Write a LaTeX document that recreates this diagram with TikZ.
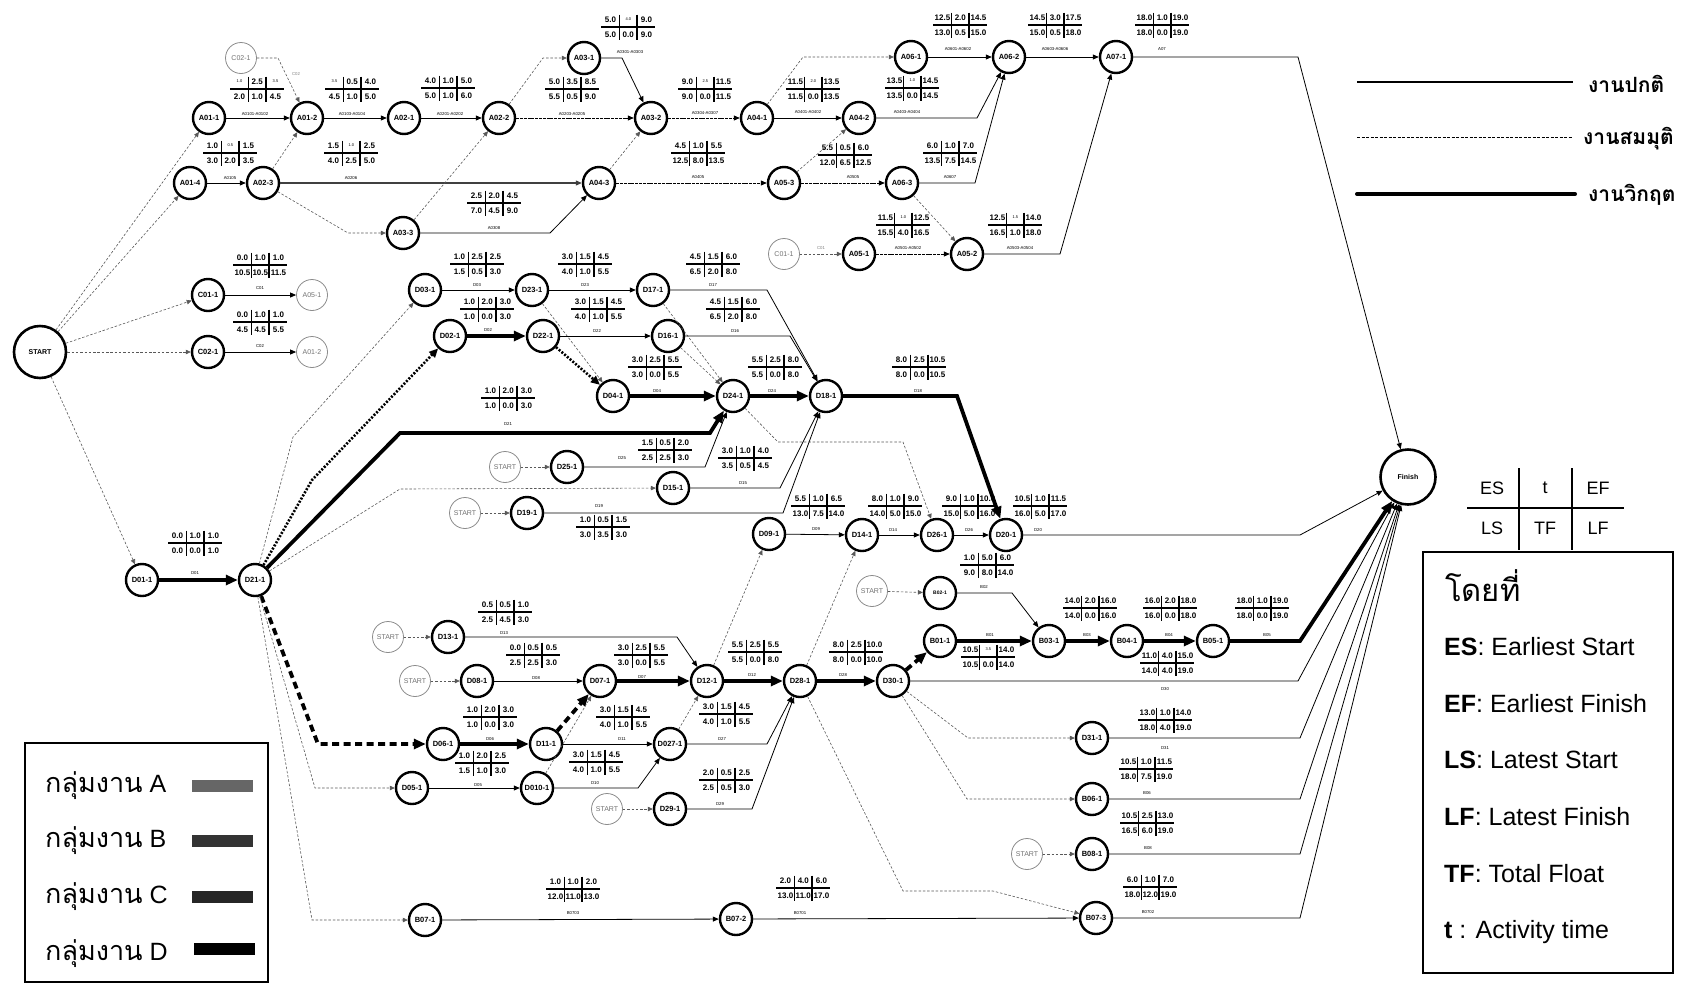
\documentclass[tikz,border=0pt]{standalone}
\usepackage{fontspec}
\setmainfont{Liberation Sans}
\newfontfamily\thai[Script=Thai]{Loma}
\usetikzlibrary{arrows.meta}
\tikzset{
 nd/.style={circle, draw, line width=2.4pt, minimum size=32pt, inner sep=0pt, font=\bfseries\fontsize{7.5}{8}\selectfont},
 gn/.style={circle, draw=black!45, line width=0.8pt, minimum size=31pt, inner sep=0pt, text=black!55, font=\fontsize{7}{8}\selectfont},
 big/.style={circle, draw, line width=2.6pt, minimum size=52pt, inner sep=0pt, font=\bfseries\fontsize{7}{8}\selectfont},
 tl/.style={line width=1.9pt},
 tv/.style={inner sep=0pt, font=\bfseries\fontsize{8}{9}\selectfont},
 el/.style={inner sep=0pt, font=\fontsize{4.3}{5}\selectfont},
 nm/.style={line width=0.8pt, -{Triangle[length=6pt,width=5pt]}},
 dn/.style={nm, dash pattern=on 3pt off 0.8pt},
 dm/.style={black!65, line width=0.6pt, dash pattern=on 2.5pt off 1.8pt, -{Triangle[length=5pt,width=4.5pt]}},
 cr/.style={line width=3.8pt, -{Triangle[length=12pt,width=10pt]}},
 crd/.style={cr, dash pattern=on 7pt off 4.5pt},
 crt/.style={line width=2.6pt, dash pattern=on 2pt off 1.6pt, -{Triangle[length=9pt,width=8pt]}},
 lg/.style={inner sep=0pt, anchor=base west, font=\fontsize{25}{28}\selectfont},
 gl/.style={inner sep=0pt, anchor=base west, font=\fontsize{25}{27}\selectfont},
}
\newcommand\sm[1]{{\fontsize{4}{4}\selectfont\mdseries #1}}
\newcommand\tb[9]{%
 \begin{scope}[shift={(#1)}]
  \draw[tl] (-27,0) -- (27,0);
  \draw[tl] (-8.5,-12.5) -- (-8.5,12.5);
  \draw[tl] (9,-12.5) -- (9,12.5);
  \node[tv] at (-17.5,-7.5) {#2};
  \node[tv] at (0.3,-7.5) {#3};
  \node[tv] at (18.5,-7.5) {#4};
  \node[tv] at (-17.5,7.5) {#5};
  \node[tv] at (0.3,7.5) {#6};
  \node[tv] at (18.5,7.5) {#7};
 \end{scope}
 \node[el] at (#9) {#8};}
\begin{document}
\begin{tikzpicture}[x=1pt,y=-1pt]
\fill[white] (0,0) rectangle (1685,991);
\useasboundingbox (0,0) rectangle (1685,991);

% ---------- nodes ----------
\node[big] (START) at (40,352) {START};
\node[big, minimum size=55pt] (Finish) at (1408,477) {Finish};

\node[gn] (C02g) at (241,58) {C02-1};
\node[nd] (A01-1) at (209,118) {A01-1};
\node[nd] (A01-2) at (307,118) {A01-2};
\node[nd] (A02-1) at (404,118) {A02-1};
\node[nd] (A02-2) at (499,118) {A02-2};
\node[nd] (A03-1) at (584,58) {A03-1};
\node[nd] (A03-2) at (651,118) {A03-2};
\node[nd] (A04-1) at (757,118) {A04-1};
\node[nd] (A04-2) at (859,118) {A04-2};
\node[nd] (A06-1) at (911,57) {A06-1};
\node[nd] (A06-2) at (1009,57) {A06-2};
\node[nd] (A07-1) at (1116,57) {A07-1};
\node[nd] (A01-4) at (190,183) {A01-4};
\node[nd] (A02-3) at (263,183) {A02-3};
\node[nd] (A04-3) at (599,183) {A04-3};
\node[nd] (A05-3) at (784,183) {A05-3};
\node[nd] (A06-3) at (902,183) {A06-3};
\node[nd] (A03-3) at (403,233) {A03-3};
\node[gn] (C01g) at (784,254) {C01-1};
\node[nd] (A05-1) at (859,254) {A05-1};
\node[nd] (A05-2) at (967,254) {A05-2};

\node[nd] (C01-1) at (208,295) {C01-1};
\node[gn] (A05g) at (312,295) {A05-1};
\node[nd] (C02-1) at (208,352) {C02-1};
\node[gn] (A01-2g) at (312,352) {A01-2};

\node[nd] (D01-1) at (142,580) {D01-1};
\node[nd] (D21-1) at (255,580) {D21-1};
\node[nd] (D03-1) at (425,290) {D03-1};
\node[nd] (D23-1) at (532,290) {D23-1};
\node[nd] (D17-1) at (653,290) {D17-1};
\node[nd] (D02-1) at (450,336) {D02-1};
\node[nd] (D22-1) at (543,336) {D22-1};
\node[nd] (D16-1) at (668,336) {D16-1};
\node[nd] (D04-1) at (613,396) {D04-1};
\node[nd] (D24-1) at (733,396) {D24-1};
\node[nd] (D18-1) at (826,396) {D18-1};
\node[gn] (S1) at (505,467) {START};
\node[nd] (D25-1) at (567,467) {D25-1};
\node[nd] (D15-1) at (673,488) {D15-1};
\node[gn] (S2) at (465,513) {START};
\node[nd] (D19-1) at (527,513) {D19-1};
\node[nd] (D09-1) at (769,534) {D09-1};
\node[nd] (D14-1) at (862,535) {D14-1};
\node[nd] (D26-1) at (937,535) {D26-1};
\node[nd] (D20-1) at (1006,535) {D20-1};
\node[gn] (S3) at (872,591) {START};
\node[nd, font=\bfseries\fontsize{5}{6}\selectfont] (B02-1) at (940,593) {B02-1};
\node[nd] (B01-1) at (940,641) {B01-1};
\node[nd] (B03-1) at (1049,641) {B03-1};
\node[nd] (B04-1) at (1127,641) {B04-1};
\node[nd] (B05-1) at (1213,641) {B05-1};
\node[gn] (S4) at (388,637) {START};
\node[nd] (D13-1) at (448,637) {D13-1};
\node[gn] (S5) at (415,681) {START};
\node[nd] (D08-1) at (477,681) {D08-1};
\node[nd] (D07-1) at (600,681) {D07-1};
\node[nd] (D12-1) at (707,681) {D12-1};
\node[nd] (D28-1) at (800,681) {D28-1};
\node[nd] (D30-1) at (893,681) {D30-1};
\node[nd] (D06-1) at (443,744) {D06-1};
\node[nd] (D11-1) at (546,744) {D11-1};
\node[nd] (D027-1) at (670,744) {D027-1};
\node[nd] (D05-1) at (412,788) {D05-1};
\node[nd] (D010-1) at (537,788) {D010-1};
\node[gn] (S6) at (607,809) {START};
\node[nd] (D29-1) at (670,809) {D29-1};
\node[nd] (D31-1) at (1092,738) {D31-1};
\node[nd] (B06-1) at (1092,799) {B06-1};
\node[gn] (S7) at (1027,854) {START};
\node[nd] (B08-1) at (1092,854) {B08-1};
\node[nd] (B07-1) at (425,920) {B07-1};
\node[nd] (B07-2) at (736,919) {B07-2};
\node[nd] (B07-3) at (1096,918) {B07-3};

% ---------- connectors: A ----------
\draw[dm] (START) -- (A01-1);
\draw[dm] (START) -- (A01-4);
\draw[dm] (START) -- (C01-1);
\draw[dm] (START) -- (C02-1);
\draw[dm] (START) -- (D01-1);
\draw[dm] (C02g) -- (278,58) -- (A01-2);
\node[el, text=black!50] at (296,74) {C02};
\draw[nm] (A01-1) -- (A01-2);
\draw[nm] (A01-2) -- (A02-1);
\draw[nm] (A02-1) -- (A02-2);
\draw[dn] (A02-2) -- (A03-2);
\draw[dm] (A02-2) -- (543,58) -- (A03-1);
\draw[nm] (A03-1) -- (622,58) -- (A03-2);
\draw[dn] (A03-2) -- (A04-1);
\draw[nm] (A04-1) -- (A04-2);
\draw[dm] (A04-1) -- (803,57) -- (A06-1);
\draw[nm] (A06-1) -- (A06-2);
\draw[nm] (A06-2) -- (A07-1);
\draw[nm] (A07-1) -- (1298,57) -- (Finish);
\draw[nm] (A04-2) -- (977,118) -- (A06-2);
\draw[nm] (A01-4) -- (A02-3);
\draw[dm] (A02-3) -- (A01-2);
\draw[nm, black!75, line width=1.1pt] (A02-3) -- (A04-3);
\draw[dm] (A02-3) -- (348,233) -- (A03-3);
\draw[dm] (A03-3) -- (A02-2);
\draw[nm] (A03-3) -- (550,233) -- (A04-3);
\draw[dm] (A04-3) -- (A03-2);
\draw[dn] (A04-3) -- (A05-3);
\draw[dm] (A05-3) -- (A04-2);
\draw[dn] (A05-3) -- (A06-3);
\draw[nm] (A06-3) -- (975,183) -- (A06-2);
\draw[dm] (A06-3) -- (A05-2);
\draw[dm] (C01g) -- (A05-1);
\node[el, text=black!50] at (821,248) {C01};
\draw[dn] (A05-1) -- (A05-2);
\draw[nm] (A05-2) -- (1060,254) -- (A07-1);

% ---------- connectors: C ----------
\draw[nm] (C01-1) -- (A05g);
\draw[nm] (C02-1) -- (A01-2g);

% ---------- connectors: D / B ----------
\draw[cr] (D01-1) -- (D21-1);
\draw[dm] (D21-1) -- (293,437) -- (D03-1);
\draw[crt] (D21-1) -- (312,480) -- (D02-1);
\draw[cr] (D21-1) -- (400,433) -- (710,433) -- (D24-1);
\draw[dm] (D21-1) -- (400,489) -- (D15-1);
\draw[crd] (D21-1) -- (318,744) -- (D06-1);
\draw[dm] (D21-1) -- (315,788) -- (D05-1);
\draw[dm] (D21-1) -- (312,920) -- (B07-1);
\draw[nm] (D03-1) -- (D23-1);
\draw[nm] (D23-1) -- (D17-1);
\draw[nm] (D17-1) -- (767,290) -- (D18-1);
\draw[dm] (D23-1) -- (D04-1);
\draw[dm] (D17-1) -- (D24-1);
\draw[cr] (D02-1) -- (D22-1);
\draw[nm] (D22-1) -- (D16-1);
\draw[nm] (D16-1) -- (790,336) -- (D18-1);
\draw[crt] (D22-1) -- (D04-1);
\draw[dm] (D16-1) -- (D24-1);
\draw[cr] (D04-1) -- (D24-1);
\draw[cr] (D24-1) -- (D18-1);
\draw[cr] (D18-1) -- (957,396) -- (D20-1);
\draw[dm] (D24-1) -- (778,442) -- (903,442) -- (D26-1);
\draw[dm] (S1) -- (D25-1);
\draw[nm] (D25-1) -- (705,467) -- (D24-1);
\draw[nm] (D15-1) -- (780,488) -- (D18-1);
\draw[dm] (S2) -- (D19-1);
\draw[nm] (D19-1) -- (783,513) -- (D18-1);
\draw[nm] (D09-1) -- (D14-1);
\draw[nm] (D14-1) -- (D26-1);
\draw[nm] (D26-1) -- (D20-1);
\draw[nm] (D20-1) -- (1300,535) -- (Finish);
\draw[dm] (S3) -- (B02-1);
\draw[nm] (B02-1) -- (1012,593) -- (B03-1);
\draw[cr] (B01-1) -- (B03-1);
\draw[cr] (B03-1) -- (B04-1);
\draw[cr] (B04-1) -- (B05-1);
\draw[cr] (B05-1) -- (1300,641) -- (Finish);
\draw[dm] (S4) -- (D13-1);
\draw[nm] (D13-1) -- (677,637) -- (D12-1);
\draw[dm] (S5) -- (D08-1);
\draw[nm] (D08-1) -- (D07-1);
\draw[cr] (D07-1) -- (D12-1);
\draw[cr] (D12-1) -- (D28-1);
\draw[cr] (D28-1) -- (D30-1);
\draw[crd] (D30-1) -- (B01-1);
\draw[dm] (D12-1) -- (D09-1);
\draw[dm] (D28-1) -- (D14-1);
\draw[nm] (D30-1) -- (1298,681) -- (Finish);
\draw[dm] (D30-1) -- (968,738) -- (D31-1);
\draw[dm] (D30-1) -- (967,799) -- (B06-1);
\draw[dm] (D28-1) -- (903,891) -- (993,891) -- (B07-3);
\draw[cr] (D06-1) -- (D11-1);
\draw[crd] (D11-1) -- (D07-1);
\draw[nm] (D11-1) -- (D027-1);
\draw[dm] (D010-1) -- (D07-1);
\draw[nm] (D05-1) -- (D010-1);
\draw[nm] (D010-1) -- (638,788) -- (D027-1);
\draw[dm] (D027-1) -- (D12-1);
\draw[nm] (D027-1) -- (767,744) -- (D28-1);
\draw[dm] (S6) -- (D29-1);
\draw[nm] (D29-1) -- (752,809) -- (D28-1);
\draw[nm] (D31-1) -- (1300,738) -- (Finish);
\draw[nm] (B06-1) -- (1300,799) -- (Finish);
\draw[dm] (S7) -- (B08-1);
\draw[nm] (B08-1) -- (1300,854) -- (Finish);
\draw[nm] (B07-1) -- (B07-2);
\draw[nm] (B07-2) -- (B07-3);
\draw[nm] (B07-3) -- (1300,918) -- (Finish);

% ---------- tables ----------
\tb{257,89}{\sm{1.0}}{2.5}{\sm{3.5}}{2.0}{1.0}{4.5}{A0101-A0102}{255,114}
\tb{352,89}{\sm{3.5}}{0.5}{4.0}{4.5}{1.0}{5.0}{A0103-A0104}{352,114}
\tb{230,153}{1.0}{\sm{0.5}}{1.5}{3.0}{2.0}{3.5}{A0105}{230,178}
\tb{351,153}{1.5}{\sm{1.0}}{2.5}{4.0}{2.5}{5.0}{A0206}{351,178}
\tb{448,88}{4.0}{1.0}{5.0}{5.0}{1.0}{6.0}{A0201-A0202}{450,114}
\tb{628,27}{5.0}{\sm{4.0}}{9.0}{5.0}{0.0}{9.0}{A0301-A0303}{630,52}
\tb{572,89}{5.0}{3.5}{8.5}{5.5}{0.5}{9.0}{A0203-A0205}{572,114}
\tb{705,89}{9.0}{\sm{2.5}}{11.5}{9.0}{0.0}{11.5}{A0304-A0307}{705,113}
\tb{813,89}{11.5}{\sm{2.0}}{13.5}{11.5}{0.0}{13.5}{A0401-A0402}{808,112}
\tb{698,153}{4.5}{1.0}{5.5}{12.5}{8.0}{13.5}{A0405}{698,177}
\tb{494,203}{2.5}{2.0}{4.5}{7.0}{4.5}{9.0}{A0308}{494,228}
\tb{960,25}{12.5}{2.0}{14.5}{13.0}{0.5}{15.0}{A0601-A0602}{958,49}
\tb{1055,25}{14.5}{3.0}{17.5}{15.0}{0.5}{18.0}{A0603-A0606}{1055,49}
\tb{1162,25}{18.0}{1.0}{19.0}{18.0}{0.0}{19.0}{A07}{1162,49}
\tb{912,88}{13.5}{\sm{1.0}}{14.5}{13.5}{0.0}{14.5}{A0403-A0404}{907,112}
\tb{845,155}{5.5}{0.5}{6.0}{12.0}{6.5}{12.5}{A0505}{853,177}
\tb{950,153}{6.0}{1.0}{7.0}{13.5}{7.5}{14.5}{A0607}{950,177}
\tb{903,225}{11.5}{\sm{1.0}}{12.5}{15.5}{4.0}{16.5}{A0501-A0502}{908,248}
\tb{1015,225}{12.5}{\sm{1.5}}{14.0}{16.5}{1.0}{18.0}{A0503-A0504}{1020,248}
\tb{260,265}{0.0}{1.0}{1.0}{10.5}{10.5}{11.5}{C01}{260,288}
\tb{260,322}{0.0}{1.0}{1.0}{4.5}{4.5}{5.5}{C02}{260,346}
\tb{195,543}{0.0}{1.0}{1.0}{0.0}{0.0}{1.0}{D01}{195,573}
\tb{477,264}{1.0}{2.5}{2.5}{1.5}{0.5}{3.0}{D03}{477,285}
\tb{585,264}{3.0}{1.5}{4.5}{4.0}{1.0}{5.5}{D23}{585,285}
\tb{713,264}{4.5}{1.5}{6.0}{6.5}{2.0}{8.0}{D17}{713,285}
\tb{487,309}{1.0}{2.0}{3.0}{1.0}{0.0}{3.0}{D02}{488,330}
\tb{598,309}{3.0}{1.5}{4.5}{4.0}{1.0}{5.5}{D22}{597,331}
\tb{733,309}{4.5}{1.5}{6.0}{6.5}{2.0}{8.0}{D16}{735,331}
\tb{655,367}{3.0}{2.5}{5.5}{3.0}{0.0}{5.5}{D04}{657,391}
\tb{775,367}{5.5}{2.5}{8.0}{5.5}{0.0}{8.0}{D24}{772,391}
\tb{508,398}{1.0}{2.0}{3.0}{1.0}{0.0}{3.0}{D21}{508,424}
\tb{665,450}{1.5}{0.5}{2.0}{2.5}{2.5}{3.0}{D25}{622,458}
\tb{745,458}{3.0}{1.0}{4.0}{3.5}{0.5}{4.5}{D15}{743,483}
\tb{603,527}{1.0}{0.5}{1.5}{3.0}{3.5}{3.0}{D19}{599,506}
\tb{818,506}{5.5}{1.0}{6.5}{13.0}{7.5}{14.0}{D09}{816,529}
\tb{919,367}{8.0}{2.5}{10.5}{8.0}{0.0}{10.5}{D18}{918,391}
\tb{895,506}{8.0}{1.0}{9.0}{14.0}{5.0}{15.0}{D14}{893,530}
\tb{969,506}{9.0}{1.0}{10.0}{15.0}{5.0}{16.0}{D26}{969,530}
\tb{1040,506}{10.5}{1.0}{11.5}{16.0}{5.0}{17.0}{D20}{1038,530}
\tb{987,565}{1.0}{5.0}{6.0}{9.0}{8.0}{14.0}{B02}{984,587}
\tb{988,657}{10.5}{\sm{3.5}}{14.0}{10.5}{0.0}{14.0}{B01}{990,635}
\tb{1090,608}{14.0}{2.0}{16.0}{14.0}{0.0}{16.0}{B03}{1087,635}
\tb{1170,608}{16.0}{2.0}{18.0}{16.0}{0.0}{18.0}{B04}{1169,635}
\tb{1262,608}{18.0}{1.0}{19.0}{18.0}{0.0}{19.0}{B05}{1267,635}
\tb{1167,663}{11.0}{4.0}{15.0}{14.0}{4.0}{19.0}{D30}{1165,689}
\tb{1165,720}{13.0}{1.0}{14.0}{18.0}{4.0}{19.0}{D31}{1165,748}
\tb{1146,769}{10.5}{1.0}{11.5}{18.0}{7.5}{19.0}{B06}{1147,793}
\tb{1147,823}{10.5}{2.5}{13.0}{16.5}{6.0}{19.0}{B08}{1148,848}
\tb{1150,887}{6.0}{1.0}{7.0}{18.0}{12.0}{19.0}{B0702}{1148,912}
\tb{505,612}{0.5}{0.5}{1.0}{2.5}{4.5}{3.0}{D13}{504,633}
\tb{533,655}{0.0}{0.5}{0.5}{2.5}{2.5}{3.0}{D08}{536,678}
\tb{641,655}{3.0}{2.5}{5.5}{3.0}{0.0}{5.5}{D07}{642,677}
\tb{755,652}{5.5}{2.5}{5.5}{5.5}{0.0}{8.0}{D12}{752,675}
\tb{856,652}{8.0}{2.5}{10.0}{8.0}{0.0}{10.0}{D28}{843,675}
\tb{490,717}{1.0}{2.0}{3.0}{1.0}{0.0}{3.0}{D06}{490,739}
\tb{482,763}{1.0}{2.0}{2.5}{1.5}{1.0}{3.0}{D05}{478,785}
\tb{623,717}{3.0}{1.5}{4.5}{4.0}{1.0}{5.5}{D11}{622,739}
\tb{596,762}{3.0}{1.5}{4.5}{4.0}{1.0}{5.5}{D10}{595,783}
\tb{726,714}{3.0}{1.5}{4.5}{4.0}{1.0}{5.5}{D27}{722,739}
\tb{726,780}{2.0}{0.5}{2.5}{2.5}{0.5}{3.0}{D29}{720,804}
\tb{573,889}{1.0}{1.0}{2.0}{12.0}{11.0}{13.0}{B0703}{573,913}
\tb{803,888}{2.0}{4.0}{6.0}{13.0}{11.0}{17.0}{B0701}{800,913}

% ---------- legend: line types ----------
\coordinate (l1a) at (1357,82); \coordinate (l1b) at (1573,82);
\coordinate (l2a) at (1357,137); \coordinate (l2b) at (1573,137);
\coordinate (l3a) at (1357,194); \coordinate (l3b) at (1575,194);
\draw[line width=1.3pt] (l1a) -- (l1b);
\draw[line width=0.8pt, dash pattern=on 3pt off 1.5pt] (l2a) -- (l2b);
\draw[line width=4pt, line cap=round] (l3a) -- (l3b);
\node[inner sep=0pt, anchor=base west, font=\thai\bfseries\fontsize{21}{23}\selectfont] (lt1) at (1588,92) {งานปกติ};
\node[inner sep=0pt, anchor=base west, font=\thai\bfseries\fontsize{21}{23}\selectfont] (lt2) at (1583,144) {งานสมมุติ};
\node[inner sep=0pt, anchor=base west, font=\thai\bfseries\fontsize{21}{23}\selectfont] (lt3) at (1588,201) {งานวิกฤต};

% ---------- legend: ES table ----------
\draw[line width=1.2pt] (1467,508) -- (1624,508);
\draw[line width=1.2pt] (1519,468) -- (1519,550);
\draw[line width=1.2pt] (1572,468) -- (1572,550);
\node[font=\fontsize{18}{20}\selectfont] (kes) at (1492,488) {ES};
\node[font=\fontsize{18}{20}\selectfont] (kt) at (1545,488) {t};
\node[font=\fontsize{18}{20}\selectfont] (kef) at (1598,488) {EF};
\node[font=\fontsize{18}{20}\selectfont] (kls) at (1492,528) {LS};
\node[font=\fontsize{18}{20}\selectfont] (ktf) at (1545,528) {TF};
\node[font=\fontsize{18}{20}\selectfont] (klf) at (1598,528) {LF};

% ---------- legend: definitions ----------
\draw[line width=2.5pt] (1423,552) rectangle (1673,973);
\node[inner sep=0pt, anchor=base west, font=\thai\fontsize{31}{33}\selectfont] (kby) at (1445,601) {โดยที่};
\node[lg] (d1) at (1444,655) {\textbf{ES}: Earliest Start};
\node[lg] (d2) at (1444,712) {\textbf{EF}: Earliest Finish};
\node[lg] (d3) at (1444,768) {\textbf{LS}: Latest Start};
\node[lg] (d4) at (1444,825) {\textbf{LF}: Latest Finish};
\node[lg] (d5) at (1444,882) {\textbf{TF}: Total Float};
\node[lg] (d6) at (1444,938) {\textbf{t} : Activity time};

% ---------- legend: groups ----------
\draw[line width=2.5pt] (25,743) rectangle (268,982);
\node[gl] (g1) at (45,792) {{\thai\fontsize{27}{29}\selectfont กลุ่มงาน} A};
\node[gl] (g2) at (45,847) {{\thai\fontsize{27}{29}\selectfont กลุ่มงาน} B};
\node[gl] (g3) at (45,903) {{\thai\fontsize{27}{29}\selectfont กลุ่มงาน} C};
\node[gl] (g4) at (45,960) {{\thai\fontsize{27}{29}\selectfont กลุ่มงาน} D};
\fill[black!60] (192,780) rectangle (253,792);
\fill[black!80] (192,835) rectangle (253,847);
\fill[black!85] (192,891) rectangle (253,903);
\fill[black] (194,943) rectangle (255,955);
\end{tikzpicture}
\end{document}
